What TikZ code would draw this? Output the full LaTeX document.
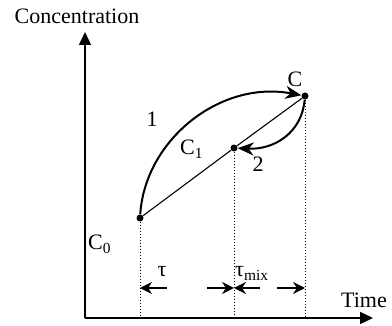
\documentclass[tikz,border=0pt]{standalone}
\usepackage{fontspec}
\setmainfont{Liberation Serif}
\usetikzlibrary{arrows.meta,positioning}

\begin{document}
\begin{tikzpicture}[
    x=1pt, y=-1pt,
    lbl/.style={font=\fontsize{22}{26}\selectfont, inner sep=0pt},
    axis/.style={-{Triangle[length=13pt,width=12pt]}, line width=1.6pt},
    curve/.style={-{Stealth[length=16pt,width=13pt,inset=5pt]}, line width=2pt},
    chord/.style={line width=1.1pt},
    guide/.style={dotted, line width=1pt},
    dimarrow/.style={-{Stealth[length=12pt,width=12pt,inset=4pt]}, line width=1.5pt},
    dot/.style={circle, fill, inner sep=0pt, minimum size=7pt}
]
\useasboundingbox (0,0) rectangle (392,326);
\coordinate (origin) at (85,318);
\coordinate (ytip) at (85,32);
\coordinate (xtip) at (373,318);
\node[dot] (c0) at (140,218) {};
\node[dot] (c1) at (234,148) {};
\node[dot] (cc) at (305,96) {};
\coordinate (d1) at (167,288);
\coordinate (d2) at (207,288);
\coordinate (d3) at (260,288);
\coordinate (d4) at (277,288);

\draw[axis] (origin) -- (ytip);
\draw[axis] (origin) -- (xtip);
\node[lbl] (conc) at (77,16) {Concentration};
\node[lbl] (time) at (364,300) {Time};

\draw[chord] (c0) -- (c1) -- (cc);
\draw[curve] (c0) .. controls (145,140) and (220,80) .. (cc);
\draw[curve] (cc) .. controls (302,132) and (275,150) .. (c1);

\draw[guide] (c0) -- (c0 |- origin);
\draw[guide] (c1) -- (c1 |- origin);
\draw[guide] (cc) -- (cc |- origin);

\draw[dimarrow] (d1) -- (c0 |- d1);
\draw[dimarrow] (d2) -- (c1 |- d2);
\draw[dimarrow] (d3) -- (c1 |- d3);
\draw[dimarrow] (d4) -- (cc |- d4);

\node[lbl, anchor=base west] (lc0) at (88,250) {C\textsubscript{0}};
\node[lbl, anchor=base west] (lc1) at (180,155) {C\textsubscript{1}};
\node[lbl, anchor=base] (lc) at (295,87) {C};
\node[lbl, anchor=base] (one) at (152,127) {1};
\node[lbl, anchor=base] (two) at (258,172) {2};
\node[lbl, anchor=base] (tau) at (162,277) {τ};
\node[lbl, anchor=base west] (taumix) at (235,277) {τ\textsubscript{mix}};
\end{tikzpicture}
\end{document}
